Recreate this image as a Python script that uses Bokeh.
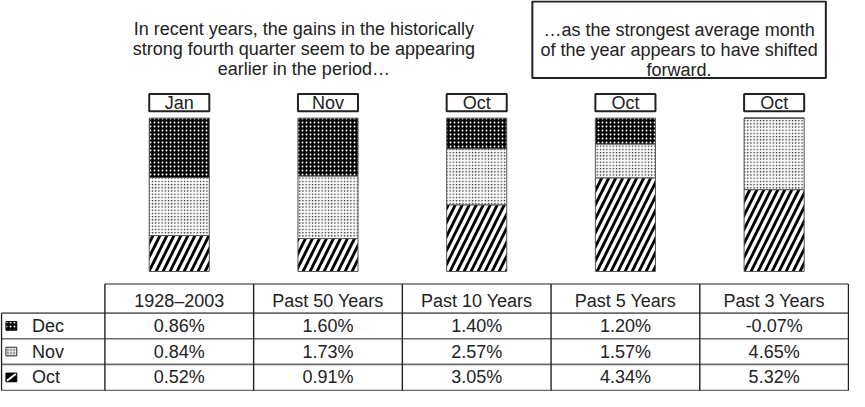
from bokeh.plotting import figure
from bokeh.models import Range1d
from bokeh.embed import file_html
from bokeh.resources import INLINE
from bokeh.core.properties import value

# ---------------- data ----------------
periods = ["1928–2003", "Past 50 Years", "Past 10 Years", "Past 5 Years", "Past 3 Years"]
dec_vals = [0.86, 1.60, 1.40, 1.20, -0.07]
nov_vals = [0.84, 1.73, 2.57, 1.57, 4.65]
oct_vals = [0.52, 0.91, 3.05, 4.34, 5.32]
best_month = ["Jan", "Nov", "Oct", "Oct", "Oct"]
row_months = ["Dec", "Nov", "Oct"]
left_note = ["In recent years, the gains in the historically",
             "strong fourth quarter seem to be appearing",
             "earlier in the period…"]
right_note = ["…as the strongest average month",
              "of the year appears to have shifted",
              "forward."]

FONT = "Liberation Sans"

# ---------------- layout (reference pixel geometry) ----------------
W, H = 849, 391
REF_X0, REF_X1 = 4, 864
REF_Y0, REF_Y1 = 4, 406
SX = (W - 2) / (REF_X1 - REF_X0)
SY = (H - 2) / (REF_Y1 - REF_Y0)


def fx(rx):
    return 1 + (rx - REF_X0) * SX


def fy(ry):
    return 1 + (ry - REF_Y0) * SY


COL_LEFT, COL_W = 109, 151
px_per_x = COL_W * SX
x_start = -fx(COL_LEFT + COL_W / 2) / px_per_x
x_end = x_start + W / px_per_x

BAR_TOP, BAR_BOT = 124.5, 283
px_per_y = (fy(BAR_BOT) - fy(BAR_TOP)) / 100.0
y_end = 100 + fy(BAR_TOP) / px_per_y
y_start = y_end - H / px_per_y


def X(rx):
    return x_start + fx(rx) / px_per_x


def Y(ry):
    return y_end - fy(ry) / px_per_y


def DX(px):
    return px * SX / px_per_x


def DY(py):
    return py * SY / px_per_y


p = figure(width=W, height=H, output_backend="svg", toolbar_location=None,
           x_range=Range1d(x_start, x_end), y_range=Range1d(y_start, y_end),
           min_border=0, outline_line_color=None)
p.axis.visible = False
p.grid.visible = False
p.background_fill_color = "white"

# ---------------- normalised stacked bars ----------------
idx = list(range(len(periods)))


def pos(v):
    return max(v, 0.0)


tot = [pos(o) + pos(n) + pos(d) for o, n, d in zip(oct_vals, nov_vals, dec_vals)]
oct_top = [100 * pos(o) / t for o, t in zip(oct_vals, tot)]
nov_top = [ot + 100 * pos(n) / t for ot, n, t in zip(oct_top, nov_vals, tot)]
dec_top = [nt + 100 * pos(d) / t for nt, d, t in zip(nov_top, dec_vals, tot)]
bw = DX(61)

p.vbar(x=idx, width=bw, bottom=0, top=oct_top, fill_color="white",
       hatch_pattern="/", hatch_color="black", hatch_scale=14, hatch_weight=2.8,
       line_color="#555555", line_width=1)
p.vbar(x=idx, width=bw, bottom=oct_top, top=nov_top, fill_color="white",
       hatch_pattern=".", hatch_color="#333333", hatch_scale=3.2, hatch_weight=1,
       line_color="#555555", line_width=1)
p.vbar(x=idx, width=bw, bottom=nov_top, top=dec_top, fill_color="black",
       hatch_pattern=".", hatch_color="white", hatch_scale=4, hatch_weight=1,
       line_color="#555555", line_width=1)

# best-month label boxes
p.rect(x=idx, y=Y(108.5), width=bw, height=DY(18), fill_color="white",
       line_color="#222222", line_width=2)
p.text(x=idx, y=Y(109), text=best_month, text_font=value(FONT),
       text_font_size="18px", text_align="center", text_baseline="middle",
       text_color="#222222")

# ---------------- notes ----------------
note_base = [32, 53, 74]
p.text(x=[X(311)] * 3, y=[Y(b) for b in note_base], text=left_note,
       text_font=value(FONT), text_font_size="18px", text_align="center",
       text_baseline="alphabetic", text_color="#222222")
p.quad(left=X(543), right=X(841), top=Y(4), bottom=Y(83), fill_color="white",
       line_color="#222222", line_width=2)
p.text(x=[X(692)] * 3, y=[Y(b + 1) for b in note_base], text=right_note,
       text_font=value(FONT), text_font_size="18px", text_align="center",
       text_baseline="alphabetic", text_color="#222222")

# ---------------- table ----------------
row_lines = [296, 326, 352.5, 379, 406]
col_lines = [COL_LEFT + k * COL_W for k in range(len(periods) + 1)]
# horizontal rules
p.segment(x0=[X(COL_LEFT)] + [X(4)] * 4, x1=[X(864)] * 5,
          y0=[Y(r) for r in row_lines], y1=[Y(r) for r in row_lines],
          line_color="#6a6a6a", line_width=1.6)
# vertical rules
p.segment(x0=[X(c) for c in col_lines], x1=[X(c) for c in col_lines],
          y0=[Y(296)] * len(col_lines), y1=[Y(406)] * len(col_lines),
          line_color="#222222", line_width=1.4)
p.segment(x0=[X(4)], x1=[X(4)], y0=[Y(326)], y1=[Y(406)],
          line_color="#222222", line_width=1.4)

# header
p.text(x=idx, y=Y(313), text=periods, text_font=value(FONT),
       text_font_size="18px", text_align="center", text_baseline="middle",
       text_color="#222222")

row_centers = [(row_lines[i + 1] + row_lines[i + 2]) / 2 for i in range(3)]
series = [dec_vals, nov_vals, oct_vals]
for r, vals in enumerate(series):
    p.text(x=idx, y=[Y(row_centers[r])] * len(idx),
           text=[f"{v:.2f}%" for v in vals], text_font=value(FONT),
           text_font_size="18px", text_align="center", text_baseline="middle",
           text_color="#222222")

# row labels + legend swatches
p.text(x=[X(35)] * 3, y=[Y(c) for c in row_centers], text=row_months,
       text_font=value(FONT), text_font_size="18px", text_align="left",
       text_baseline="middle", text_color="#222222")
mx = X(14)
p.rect(x=[mx], y=[Y(row_centers[0])], width=DX(11), height=DY(9),
       fill_color="black", hatch_pattern=".", hatch_color="white",
       hatch_scale=4, line_color="black", line_width=1)
p.rect(x=[mx], y=[Y(row_centers[1])], width=DX(11), height=DY(9),
       fill_color="#dddddd", hatch_pattern=".", hatch_color="#444444",
       hatch_scale=3, line_color="#333333", line_width=1)
p.rect(x=[mx], y=[Y(row_centers[2])], width=DX(11), height=DY(9),
       fill_color="black", line_color="black", line_width=1)
p.segment(x0=[mx - DX(4.5)], y0=[Y(row_centers[2]) - DY(3.5)],
          x1=[mx + DX(4.5)], y1=[Y(row_centers[2]) + DY(3.5)],
          line_color="white", line_width=2)

open("out.html", "w").write(file_html(p, INLINE))
